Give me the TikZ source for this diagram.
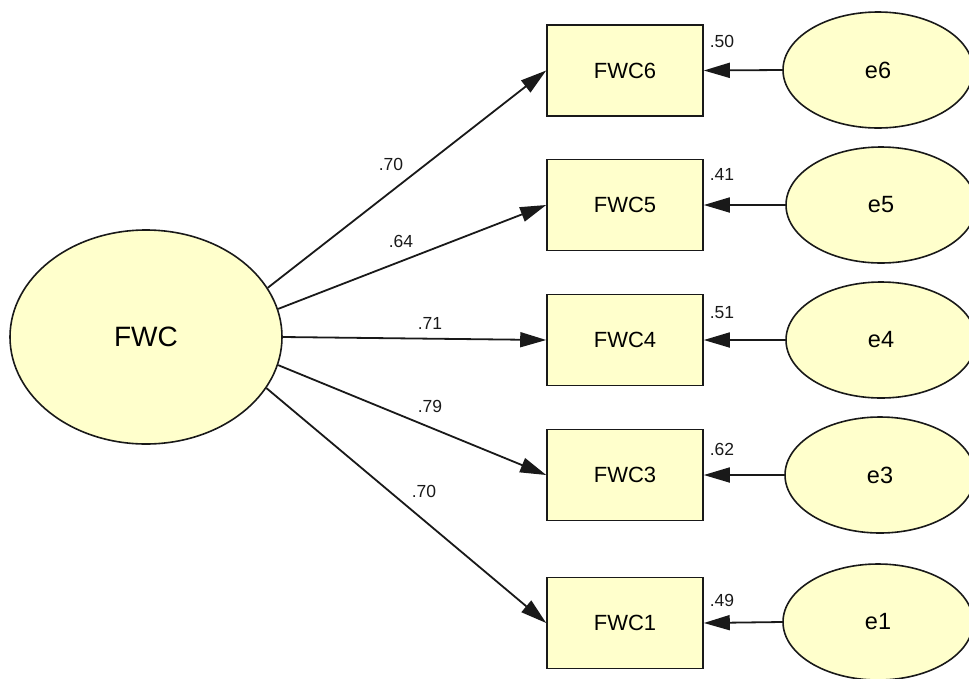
\documentclass[tikz,border=0pt]{standalone}
\usepackage{fontspec}
\setmainfont{Liberation Sans}
\usetikzlibrary{shapes.geometric,arrows.meta}
\definecolor{amosfill}{RGB}{255,255,204}
\definecolor{ink}{RGB}{25,25,25}
\tikzset{
  obsbox/.style={draw=ink,line width=1.6pt,fill=amosfill,minimum width=156pt,minimum height=91pt,inner sep=0pt,font=\fontsize{22}{24}\selectfont},
  errell/.style={ellipse,draw=ink,line width=1.6pt,fill=amosfill,minimum width=190pt,minimum height=116pt,inner sep=0pt,font=\fontsize{23.5}{26}\selectfont},
  latell/.style={ellipse,draw=ink,line width=1.6pt,fill=amosfill,minimum width=272pt,minimum height=214pt,inner sep=0pt,font=\fontsize{28}{30}\selectfont},
  pathline/.style={draw=ink,line width=1.8pt,-{Triangle[length=26pt,width=15pt]}},
  coef/.style={font=\fontsize{17.5}{19}\selectfont,text=ink,inner sep=0pt}
}
\begin{document}
\begin{tikzpicture}[x=1pt,y=-1pt]
\useasboundingbox (0,0) rectangle (969,678);
\node[latell] (FWC) at (146,337) {FWC};
\node[obsbox] (b6) at (625,70.5) {FWC6};
\node[obsbox] (b5) at (625,205) {FWC5};
\node[obsbox] (b4) at (625,340) {FWC4};
\node[obsbox] (b3) at (625,475) {FWC3};
\node[obsbox] (b1) at (625,623) {FWC1};
\node[errell] (e6) at (878,70) {e6};
\node[errell] (e5) at (881,205) {e5};
\node[errell] (e4) at (881,340) {e4};
\node[errell] (e3) at (880,475) {e3};
\node[errell] (e1) at (878,622) {e1};
\draw[pathline] (FWC.22) -- (b6.west);
\draw[pathline] (FWC.12) -- (b5.west);
\draw[pathline] (FWC.0) -- (b4.west);
\draw[pathline] (FWC.-12) -- (b3.west);
\draw[pathline] (FWC.-23) -- (b1.west);
\draw[pathline] (e6.west) -- (b6.east);
\draw[pathline] (e5.west) -- (b5.east);
\draw[pathline] (e4.west) -- (b4.east);
\draw[pathline] (e3.west) -- (b3.east);
\draw[pathline] (e1.west) -- (b1.east);
\node[coef] (c6) at (391,164) {.70};
\node[coef] (c5) at (401,241) {.64};
\node[coef] (c4) at (430,323) {.71};
\node[coef] (c3) at (430,406) {.79};
\node[coef] (c1) at (424,491) {.70};
\node[coef] (r6) at (722,41) {.50};
\node[coef] (r5) at (722,174) {.41};
\node[coef] (r4) at (722,313) {.51};
\node[coef] (r3) at (722,449) {.62};
\node[coef] (r1) at (722,600) {.49};
\end{tikzpicture}
\end{document}
